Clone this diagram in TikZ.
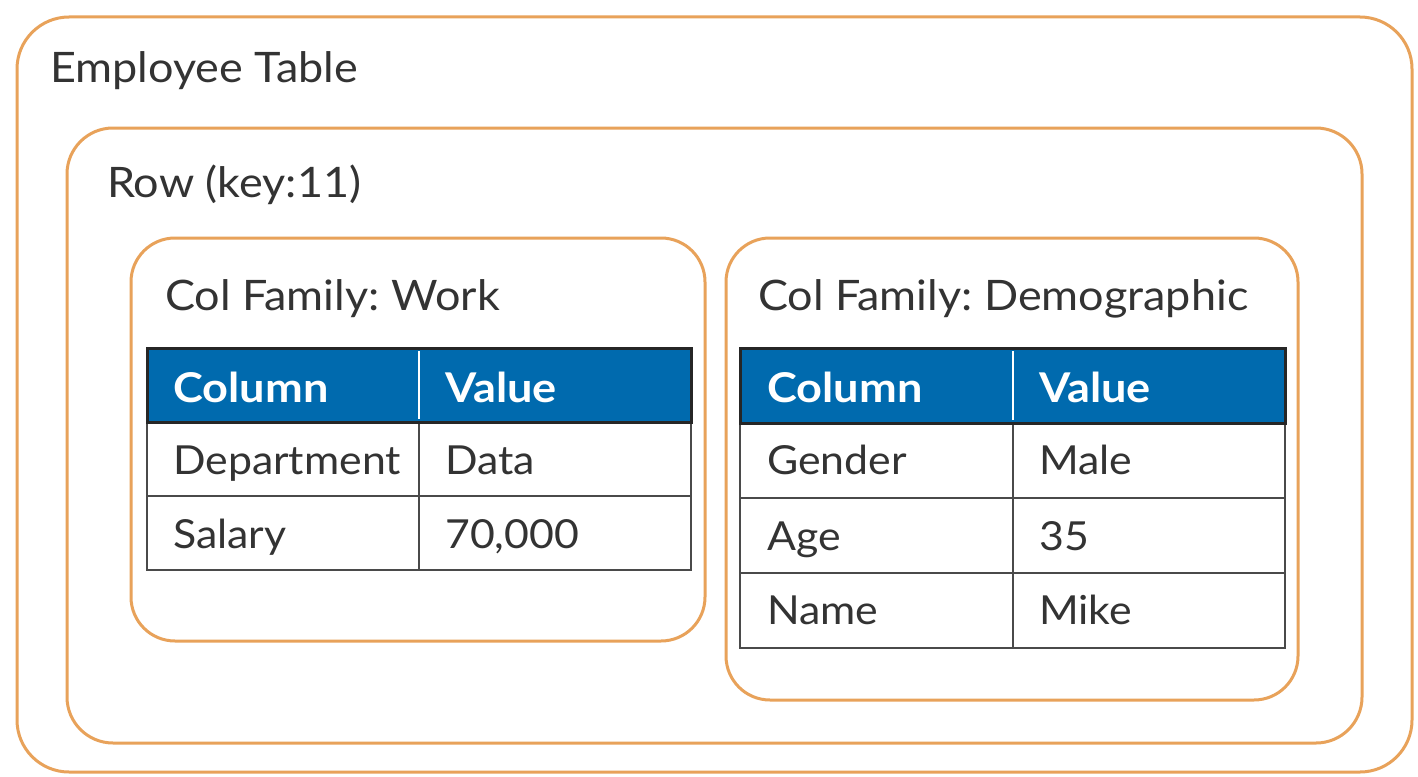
\documentclass[tikz,border=0pt]{standalone}
\usepackage{fontspec}
\setmainfont{Lato}[FakeStretch=1.07]
\newfontfamily\hfont{Lato}[FakeStretch=1.1]
\definecolor{boxorange}{HTML}{E8A25A}
\definecolor{hdrblue}{HTML}{006AAE}
\definecolor{txt}{HTML}{333333}
\definecolor{gridc}{HTML}{4A4A4A}
\frenchspacing
\begin{document}
\frenchspacing
\begin{tikzpicture}[x=1pt,y=-1pt,
  box/.style={draw=boxorange, line width=3pt, rounded corners=#1},
  lbl/.style={anchor=base west, inner sep=0pt, text=txt, font=\frenchspacing\fontsize{42}{50}\selectfont},
  cell/.style={anchor=base west, inner sep=0pt, text=txt, font=\fontsize{40}{48}\selectfont},
  hdr/.style={anchor=base west, inner sep=0pt, text=white, font=\hfont\fontsize{41}{48}\selectfont\bfseries},
  grid/.style={draw=gridc, line width=2.5pt},
  hline/.style={draw=black!85, line width=3pt}]
\useasboundingbox (0,0) rectangle (1418,776);
\fill[white] (0,0) rectangle (1418,776);
% boxes
\draw[box=52pt] (17,17) rectangle (1412,772);
\draw[box=46pt] (67,128) rectangle (1362,743);
\draw[box=44pt] (131,238) rectangle (705,641);
\draw[box=44pt] (726,238) rectangle (1298,700);
% labels
\node[lbl] (title) at (50,82) {Employee Table};
\node[lbl] (row) at (107,197) {Row (key:11)};
\node[lbl] (cfw) at (165,310) {Col Family: Work};
\node[lbl] (cfd) at (758,310) {Col Family: Demographic};
% work table
\fill[hdrblue] (147,348) rectangle (691,422);
\draw[grid] (147,422) rectangle (691,570);
\draw[grid] (147,496) -- (691,496);
\draw[grid] (419,422) -- (419,570);
\draw[hline] (147,348) rectangle (691,422);
\draw[white, line width=2.5pt] (419,351) -- (419,419);
\node[hdr] (wc) at (173,402) {Column};
\node[hdr] (wv) at (445,402) {Value};
\node[cell] (w1a) at (173,474) {Department};
\node[cell] (w1b) at (445,474) {Data};
\node[cell] (w2a) at (173,548) {Salary};
\node[cell] (w2b) at (445,548) {70,000};
% demographic table
\fill[hdrblue] (740,348) rectangle (1285,423);
\draw[grid] (740,423) rectangle (1285,648);
\draw[grid] (740,498) -- (1285,498);
\draw[grid] (740,573) -- (1285,573);
\draw[grid] (1013,423) -- (1013,648);
\draw[hline] (740,348) rectangle (1285,423);
\draw[white, line width=2.5pt] (1013,351) -- (1013,420);
\node[hdr] (dc) at (767,402) {Column};
\node[hdr] (dv) at (1039,402) {Value};
\node[cell] (d1a) at (767,474) {Gender};
\node[cell] (d1b) at (1039,474) {Male};
\node[cell] (d2a) at (767,550) {Age};
\node[cell] (d2b) at (1039,550) {35};
\node[cell] (d3a) at (767,624) {Name};
\node[cell] (d3b) at (1039,624) {Mike};
\end{tikzpicture}
\end{document}
